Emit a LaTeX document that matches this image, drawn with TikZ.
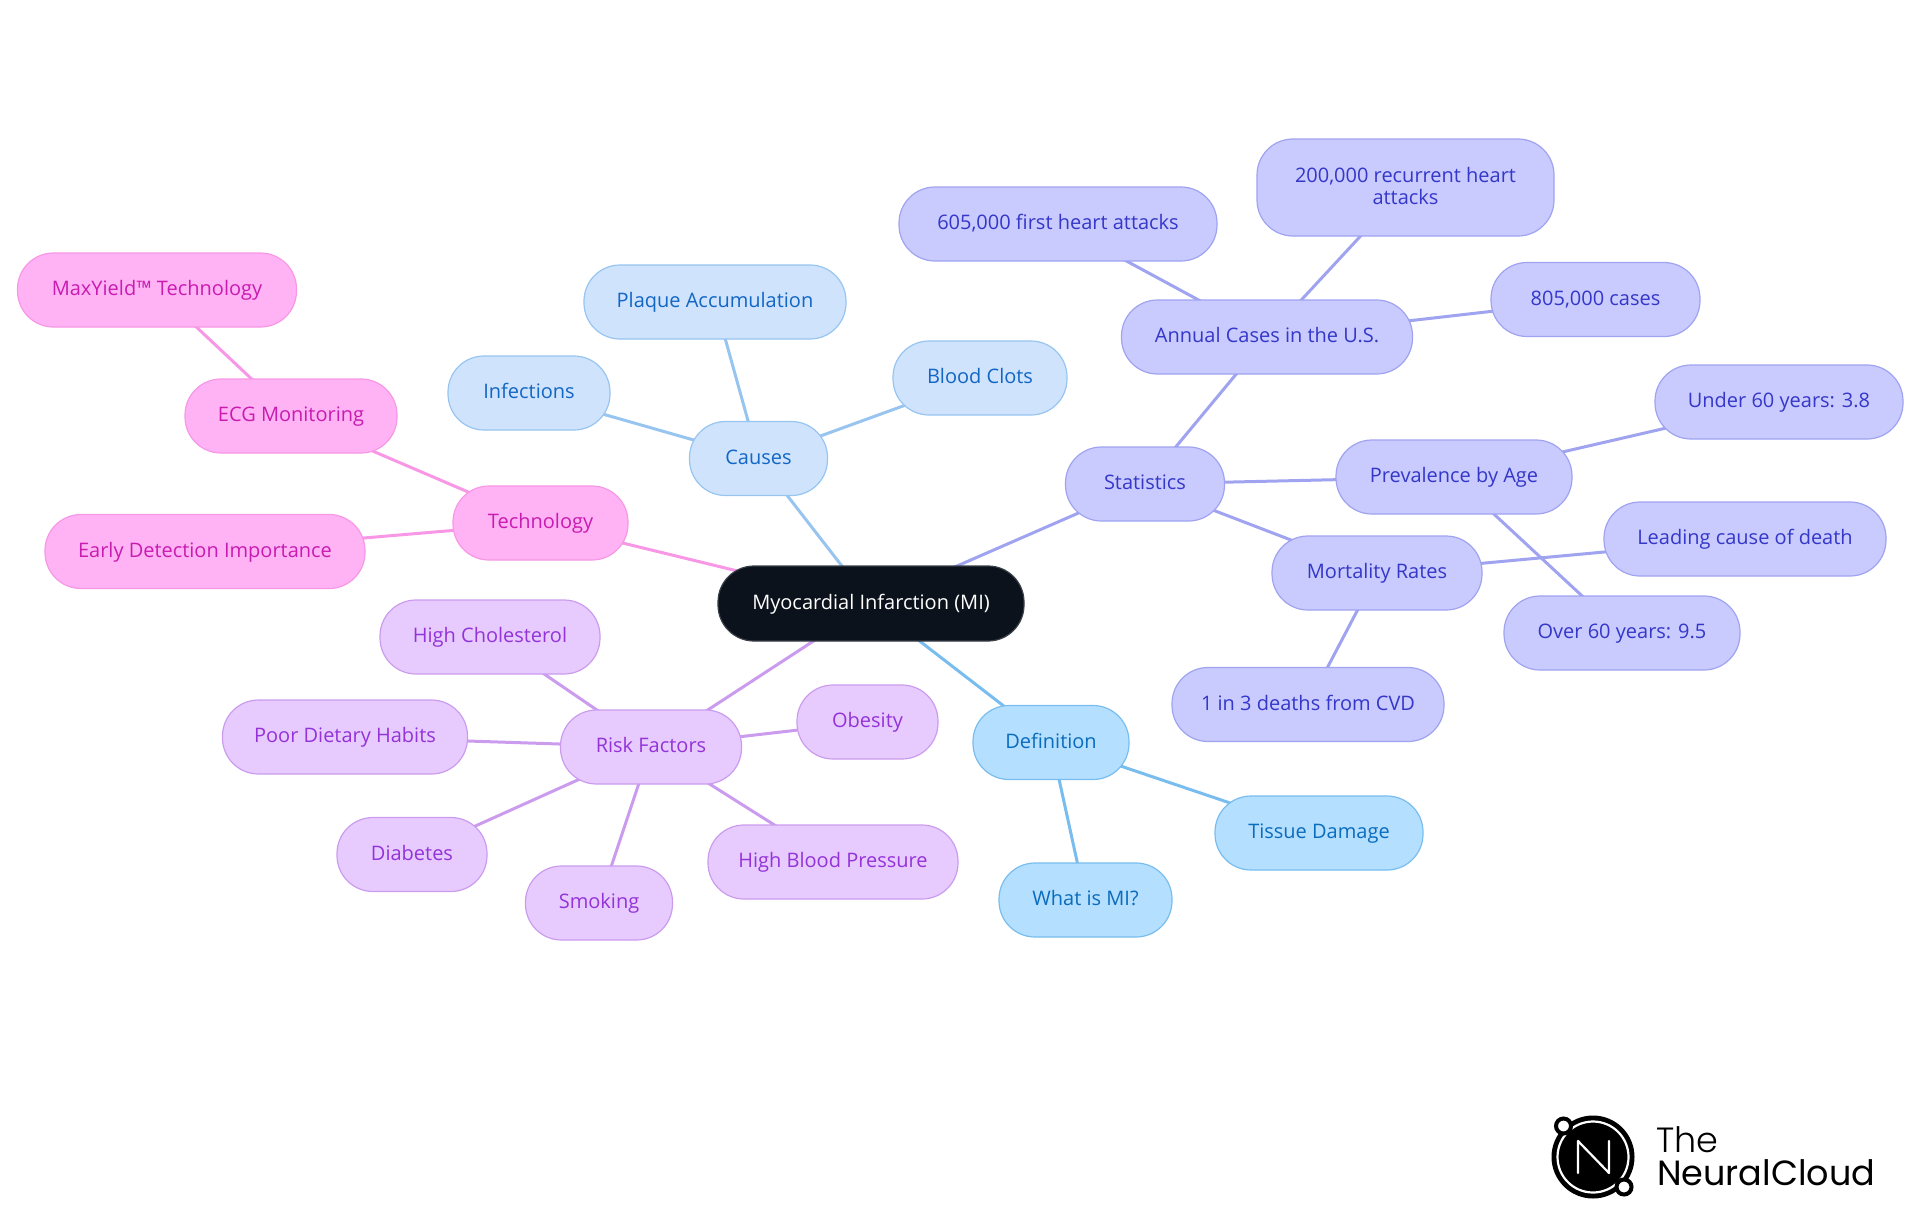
\documentclass[tikz,border=0pt]{standalone}
\usepackage{fontspec}
\setmainfont{Open Sans}
\newfontfamily\logofont{Poppins}
\newfontfamily\logothin{Poppins Light}
\usetikzlibrary{backgrounds}
\definecolor{mainfill}{HTML}{0B121B}\definecolor{mainline}{HTML}{3A4048}
\definecolor{cfill}{HTML}{CFE3FD}\definecolor{cline}{HTML}{97C5F0}\definecolor{ctext}{HTML}{1266C4}
\definecolor{dfill}{HTML}{B5DFFF}\definecolor{dline}{HTML}{78BDEE}\definecolor{dtext}{HTML}{0A6CBC}
\definecolor{sfill}{HTML}{C9CBFE}\definecolor{sline}{HTML}{9FA3F0}\definecolor{stext}{HTML}{3437C8}
\definecolor{rfill}{HTML}{E7CBFE}\definecolor{rline}{HTML}{CB9CEE}\definecolor{rtext}{HTML}{9333D8}
\definecolor{tfill}{HTML}{FFB3F5}\definecolor{tline}{HTML}{F797E5}\definecolor{ttext}{HTML}{C81CB0}
\tikzset{
 pill/.style={rectangle,rounded corners=36pt,inner sep=0pt,line width=1.2pt,align=center,
   minimum height=74pt,text height=15.5pt,text depth=4.5pt,
   font=\fontsize{20}{22}\selectfont},
 mainpill/.style={pill,fill=mainfill,draw=mainline,text=white},
 cpill/.style={pill,fill=cfill,draw=cline,text=ctext},
 dpill/.style={pill,fill=dfill,draw=dline,text=dtext},
 spill/.style={pill,fill=sfill,draw=sline,text=stext},
 rpill/.style={pill,fill=rfill,draw=rline,text=rtext},
 tpill/.style={pill,fill=tfill,draw=tline,text=ttext},
 link/.style={line width=3pt},
}
\begin{document}
\begin{tikzpicture}[x=1pt,y=-1pt]
\useasboundingbox (0,0) rectangle (1920,1215);
\node[mainpill,minimum width=306pt,minimum height=75pt] (main) at (871,603.5) {Myocardial Infarction (MI)};
% Causes
\node[cpill,minimum width=138pt] (causes) at (758.5,458.5) {Causes};
\node[cpill,minimum width=262pt] (plaque) at (715,302) {Plaque Accumulation};
\node[cpill,minimum width=162pt] (infections) at (529,393) {Infections};
\node[cpill,minimum width=174pt] (clots) at (980,378) {Blood Clots};
% Technology
\node[tpill,minimum width=175pt] (tech) at (540.5,523) {Technology};
\node[tpill,minimum width=212pt] (ecg) at (291,416) {ECG Monitoring};
\node[tpill,minimum width=279pt] (maxyield) at (157,290) {MaxYield™ Technology};
\node[tpill,minimum width=320pt] (early) at (205,551.5) {Early Detection Importance};
% Risk
\node[rpill,minimum width=181pt] (risk) at (651,747) {Risk Factors};
\node[rpill,minimum width=220pt] (chol) at (490,637) {High Cholesterol};
\node[rpill,minimum width=245pt] (diet) at (345,737) {Poor Dietary Habits};
\node[rpill,minimum width=150pt] (diabetes) at (412,854.5) {Diabetes};
\node[rpill,minimum width=147pt] (smoking) at (599,903) {Smoking};
\node[rpill,minimum width=250pt] (bp) at (833,862) {High Blood Pressure};
\node[rpill,minimum width=141pt] (obesity) at (867.5,722) {Obesity};
% Definition
\node[dpill,minimum width=156pt] (def) at (1051,742.5) {Definition};
\node[dpill,minimum width=208pt] (tissue) at (1319,833) {Tissue Damage};
\node[dpill,minimum width=173pt] (what) at (1085.5,900) {What is MI?};
% Statistics
\node[spill,minimum width=159pt] (stats) at (1145,484) {Statistics};
\node[spill,minimum width=291pt] (annual) at (1267,337) {Annual Cases in the U.S.};
\node[spill,minimum width=318pt] (first) at (1058,224) {605,000 first heart attacks};
\node[spill,minimum width=297pt,minimum height=97pt,text height=,text depth=2.5pt] (recurrent) at (1405.5,187.5) {200,000 recurrent heart\\attacks};
\node[spill,minimum width=209pt] (cases) at (1595.5,299.5) {805,000 cases};
\node[spill,minimum width=236pt] (prev) at (1454,477) {Prevalence by Age};
\node[spill,minimum width=248pt] (under) at (1779,402) {Under 60 years: 3.8};
\node[spill,minimum width=236pt] (over) at (1622,633) {Over 60 years: 9.5};
\node[spill,minimum width=210pt] (mort) at (1377,573) {Mortality Rates};
\node[spill,minimum width=282pt] (leading) at (1745,539) {Leading cause of death};
\node[spill,minimum width=272pt] (cvd) at (1308,704.5) {1 in 3 deaths from CVD};
\begin{scope}[on background layer]
\begin{scope}[link,draw=cline]
\draw (main.center)--(causes.center);
\draw (causes.center)--(plaque.center);
\draw (causes.center)--(infections.center);
\draw (causes.center)--(clots.center);
\end{scope}
\begin{scope}[link,draw=tline]
\draw (main.center)--(tech.center);
\draw (tech.center)--(ecg.center);
\draw (ecg.center)--(maxyield.center);
\draw (tech.center)--(early.center);
\end{scope}
\begin{scope}[link,draw=rline]
\draw (main.center)--(risk.center);
\draw (risk.center)--(chol.center);
\draw (risk.center)--(diet.center);
\draw (risk.center)--(diabetes.center);
\draw (risk.center)--(smoking.center);
\draw (risk.center)--(bp.center);
\draw (risk.center)--(obesity.center);
\end{scope}
\begin{scope}[link,draw=dline]
\draw (main.center)--(def.center);
\draw (def.center)--(tissue.center);
\draw (def.center)--(what.center);
\end{scope}
\begin{scope}[link,draw=sline]
\draw (main.center)--(stats.center);
\draw (stats.center)--(annual.center);
\draw (annual.center)--(first.center);
\draw (annual.center)--(recurrent.center);
\draw (annual.center)--(cases.center);
\draw (stats.center)--(prev.center);
\draw (prev.center)--(under.center);
\draw (prev.center)--(over.center);
\draw (stats.center)--(mort.center);
\draw (mort.center)--(leading.center);
\draw (mort.center)--(cvd.center);
\end{scope}
\end{scope}
% Logo
\fill[black] (1593,1157) circle (41.5);
\draw[white,line width=2.2pt] (1593,1157) circle (35.5);
\draw[white,line width=2.2pt,line join=round,line cap=round] (1578,1173) -- (1578,1141) -- (1609,1173) -- (1609,1141);
\draw[black,fill=white,line width=4pt] (1563.5,1126) circle (7.5);
\draw[black,fill=white,line width=4pt] (1624,1187) circle (7.5);
\node[inner sep=0pt,anchor=base west,text=black,font=\logothin\fontsize{35}{35}\selectfont] (logothe) at (1656,1152) {The};
\node[inner sep=0pt,anchor=base west,text=black,font=\logofont\fontsize{35}{35}\selectfont] (logoname) at (1657,1185) {NeuralCloud};
\end{tikzpicture}
\end{document}
